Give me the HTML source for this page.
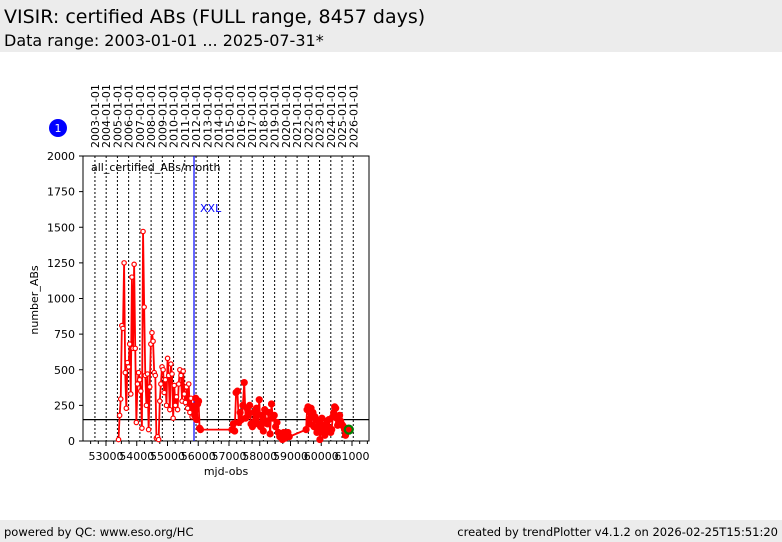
<!DOCTYPE html>
<html><head><meta charset="utf-8"><style>
body{margin:0;width:782px;height:542px;background:#fff;font-family:"DejaVu Sans","Liberation Sans",sans-serif;overflow:hidden;position:relative}
.hdr{position:absolute;left:0;top:0;width:782px;height:52px;background:#ececec}
.t1{position:absolute;left:4px;top:6px;font-size:19px;color:#000}
.t2{position:absolute;left:4px;top:31px;font-size:16px;color:#000}
.ftr{position:absolute;left:0;top:520px;width:782px;height:22px;background:#ececec;font-size:11.5px}
</style></head><body>
<div class="hdr">
<div class="t1">VISIR: certified ABs (FULL range, 8457 days)</div>
<div class="t2">Data range: 2003-01-01 ... 2025-07-31*</div>
</div>
<svg id="chart" width="782" height="542" style="position:absolute;left:0;top:0" font-family="DejaVu Sans, Liberation Sans, sans-serif"></svg>
<div class="ftr">
<span style="position:absolute;left:4px;top:5px">powered by QC: www.eso.org/HC</span>
<span style="position:absolute;right:4px;top:5px">created by trendPlotter v4.1.2 on 2026-02-25T15:51:20</span>
</div>
<script>
const yTicks=[0,250,500,750,1000,1250,1500,1750,2000];
const xTicks=[53000,54000,55000,56000,57000,58000,59000,60000,61000];
const years=[2003,2004,2005,2006,2007,2008,2009,2010,2011,2012,2013,2014,2015,2016,2017,2018,2019,2020,2021,2022,2023,2024,2025,2026];
const chunkStarts=[2005.1,2011.8,2015.2,2021.8];
const chunkEnds=[2011.75,2012.4,2020.3,2025.4];
const chunk0=[10,180,295,810,790,1250,480,230,550,520,680,330,1150,650,1240,650,130,400,480,430,350,90,1470,940,460,250,470,80,380,680,760,700,480,460,20,30,10,280,400,520,500,340,430,250,580,460,220,540,470,160,390,250,310,220,400,500,460,280,490,330,270,380,230,400,200,300,170,250];
const chunk1=[240,180,300,150,260,280,90,80];
const chunk2=[80,120,70,340,350,130,200,150,250,410,160,230,180,250,120,100,200,140,230,120,290,100,180,70,220,140,120,200,50,260,160,180,100,130,60,30,40,10,60,20,50,60,30];
const chunk3=[80,220,240,150,120,230,180,200,100,170,150,60,100,130,10,80,160,60,110,40,90,140,70,150,90,60,80,170,200,240,230,160,110,130,180,140,120,110,100,80,40,70];
const lastPoint=[2025.6,80];
const xxlMjd=55862, refLevel=150;

const svg=document.getElementById('chart');
const NS='http://www.w3.org/2000/svg';
const L=83,R=369,T=156,B=441;
const yS=v=>B-v*(B-T)/2000;
const xM=m=>106+(m-53000)*0.03075;
const yr2mjd=y=>51544.5+(y-2000)*365.25;
const xY=y=>xM(yr2mjd(y));
function el(tag,a,txt){const e=document.createElementNS(NS,tag);for(const k in a)e.setAttribute(k,a[k]);if(txt!=null)e.textContent=txt;svg.appendChild(e);return e;}

let e=el('rect',{x:L,y:T,width:R-L,height:B-T,fill:'#fff',stroke:'#000','stroke-width':1});

years.forEach(y=>{const x=xY(y);
 let g=el('line',{x1:x,x2:x,y1:T,y2:B,stroke:'#000','stroke-width':1,'stroke-dasharray':'2,2'});
 
 let t=el('text',{x:0,y:0,'font-size':11,transform:`translate(${x+4},148) rotate(-90)`},y+'-01-01');
 });
yTicks.forEach(v=>{const y=yS(v);
 el('line',{x1:L-4,x2:L,y1:y,y2:y,stroke:'#000'});
 let t=el('text',{x:L-8,y:y+4,'font-size':11,'text-anchor':'end'},v);
 });
for(let m=52250;m<=61500;m+=250){const x=xM(m);if(x<L||x>R)continue;
 el('line',{x1:x,x2:x,y1:B,y2:B+(m%1000===0?5:3),stroke:'#000'});}
xTicks.forEach(m=>{let t=el('text',{x:xM(m),y:B+19,'font-size':11,'text-anchor':'middle'},m);
 });
e=el('text',{x:226,y:475,'font-size':11,'text-anchor':'middle'},'mjd-obs');

e=el('text',{x:0,y:0,'font-size':11,'text-anchor':'middle',transform:'translate(38,300) rotate(-90)'},'number_ABs');

e=el('text',{x:91,y:171,'font-size':11},'all_certified_ABs/month');

e=el('line',{x1:L,x2:R,y1:yS(refLevel),y2:yS(refLevel),stroke:'#000','stroke-width':1.2});

const xx=xM(xxlMjd);
e=el('line',{x1:xx,x2:xx,y1:T,y2:B,stroke:'#0000ff','stroke-width':1.2});

e=el('text',{x:xx+6,y:212,'font-size':11,fill:'#0000ff'},'XXL');

const pts=[];
[chunk0,chunk1,chunk2,chunk3].forEach((c,k)=>{const s=chunkStarts[k],en=chunkEnds[k];
 c.forEach((v,i)=>pts.push([s+(en-s)*i/Math.max(1,c.length-1),v,k>0]));});
e=el('polyline',{points:pts.map(p=>xY(p[0])+','+yS(p[1])).join(' '),fill:'none',stroke:'#ff0000','stroke-width':1.8});

pts.forEach(p=>{let c=el('circle',{cx:xY(p[0]),cy:yS(p[1]),r:p[2]?3:2.2,fill:p[2]?'#ff0000':'#fff',stroke:'#ff0000','stroke-width':1.2});
 });
e=el('circle',{cx:xY(lastPoint[0]),cy:yS(lastPoint[1]),r:4,fill:'#ff0000',stroke:'#008000','stroke-width':2.2});

e=el('circle',{cx:58,cy:128,r:9,fill:'#0000ff'});

el('text',{x:58,y:132,'font-size':11,fill:'#fff','text-anchor':'middle'},'1');
</script>
</body></html>
